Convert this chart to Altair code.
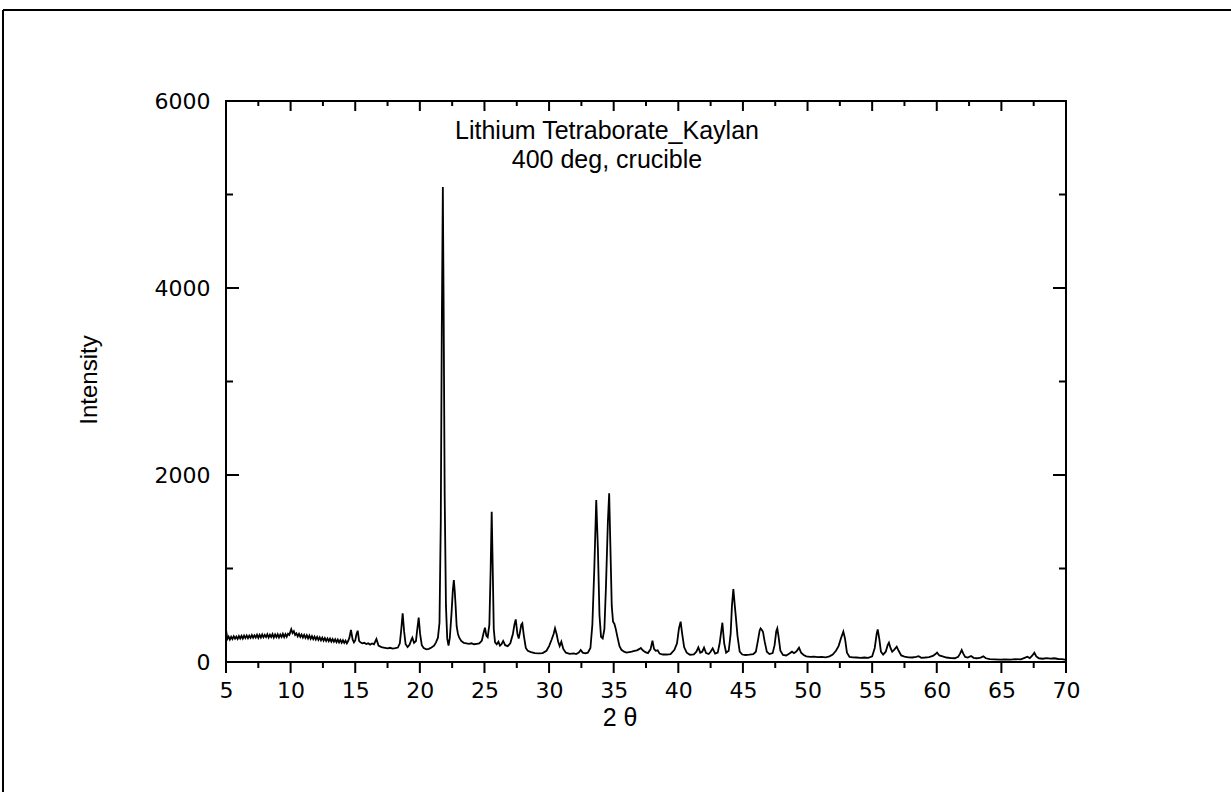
import altair as alt
import pandas as pd

# ---- data ----
theta = [
    5.00, 5.05, 5.10, 5.20, 5.30, 5.40, 5.50, 5.60, 5.70, 5.80, 5.90, 6.00, 6.10, 6.20, 6.30, 6.40, 6.50,
    6.60, 6.70, 6.80, 6.90, 7.00, 7.10, 7.20, 7.30, 7.40, 7.50, 7.60, 7.70, 7.80, 7.90, 8.00, 8.10, 8.20,
    8.30, 8.40, 8.50, 8.60, 8.70, 8.80, 8.90, 9.00, 9.10, 9.20, 9.30, 9.40, 9.50, 9.60, 9.70, 9.80, 9.90,
    10.00, 10.05, 10.15, 10.25, 10.35, 10.45, 10.55, 10.65, 10.75, 10.85, 10.95, 11.05, 11.15, 11.25,
    11.35, 11.45, 11.55, 11.65, 11.75, 11.85, 11.95, 12.05, 12.15, 12.25, 12.35, 12.45, 12.55, 12.65,
    12.75, 12.85, 12.95, 13.05, 13.15, 13.25, 13.35, 13.45, 13.55, 13.65, 13.75, 13.85, 13.95, 14.05,
    14.15, 14.25, 14.35, 14.45, 14.55, 14.67, 14.80, 14.90, 15.00, 15.10, 15.19, 15.30, 15.40, 15.55,
    15.70, 15.85, 16.00, 16.15, 16.30, 16.45, 16.64, 16.80, 16.95, 17.10, 17.30, 17.50, 17.70, 17.90,
    18.10, 18.30, 18.45, 18.55, 18.67, 18.78, 18.90, 19.05, 19.20, 19.35, 19.42, 19.55, 19.70, 19.80,
    19.91, 20.02, 20.15, 20.30, 20.50, 20.70, 20.90, 21.10, 21.25, 21.40, 21.52, 21.62, 21.70, 21.78,
    21.84, 21.92, 22.02, 22.12, 22.22, 22.32, 22.45, 22.55, 22.63, 22.70, 22.76, 22.85, 22.95, 23.05,
    23.20, 23.40, 23.60, 23.80, 24.00, 24.20, 24.40, 24.60, 24.80, 24.95, 25.04, 25.15, 25.25, 25.38,
    25.48, 25.56, 25.64, 25.72, 25.82, 25.95, 26.08, 26.20, 26.32, 26.45, 26.60, 26.80, 27.00, 27.20,
    27.32, 27.42, 27.55, 27.65, 27.75, 27.85, 27.93, 28.05, 28.20, 28.35, 28.60, 28.90, 29.20, 29.50,
    29.80, 30.00, 30.20, 30.35, 30.46, 30.58, 30.70, 30.82, 30.95, 31.10, 31.30, 31.60, 31.90, 32.10,
    32.30, 32.45, 32.60, 32.80, 33.00, 33.20, 33.35, 33.50, 33.65, 33.78, 33.90, 34.02, 34.15, 34.28,
    34.40, 34.55, 34.65, 34.75, 34.85, 34.95, 35.05, 35.15, 35.30, 35.45, 35.60, 35.80, 36.00, 36.20,
    36.40, 36.60, 36.80, 37.00, 37.10, 37.25, 37.45, 37.65, 37.85, 38.00, 38.12, 38.25, 38.40, 38.55,
    38.80, 39.10, 39.40, 39.70, 39.90, 40.05, 40.18, 40.30, 40.45, 40.65, 40.90, 41.20, 41.40, 41.55,
    41.70, 41.85, 41.99, 42.15, 42.35, 42.50, 42.66, 42.85, 43.05, 43.20, 43.41, 43.55, 43.70, 43.90,
    44.05, 44.15, 44.26, 44.36, 44.45, 44.58, 44.75, 44.95, 45.20, 45.50, 45.80, 46.00, 46.15, 46.30,
    46.37, 46.48, 46.55, 46.68, 46.85, 47.05, 47.30, 47.45, 47.58, 47.66, 47.75, 47.90, 48.10, 48.35,
    48.60, 48.80, 48.95, 49.15, 49.34, 49.50, 49.70, 49.90, 50.20, 50.50, 50.80, 51.10, 51.40, 51.70,
    51.95, 52.20, 52.40, 52.60, 52.77, 52.90, 53.05, 53.25, 53.50, 53.80, 54.10, 54.40, 54.70, 55.00,
    55.20, 55.35, 55.43, 55.55, 55.68, 55.85, 56.05, 56.20, 56.30, 56.42, 56.55, 56.70, 56.90, 57.05,
    57.25, 57.50, 57.80, 58.10, 58.40, 58.60, 58.80, 59.10, 59.40, 59.70, 59.90, 60.02, 60.20, 60.45,
    60.75, 61.10, 61.40, 61.65, 61.80, 61.93, 62.05, 62.20, 62.40, 62.65, 62.85, 63.10, 63.40, 63.60,
    63.80, 64.10, 64.50, 64.90, 65.30, 65.70, 66.10, 66.50, 66.80, 67.00, 67.20, 67.40, 67.55, 67.70,
    67.90, 68.20, 68.50, 68.80, 69.10, 69.40, 69.70, 70.00,
]
intensity = [
    345, 300, 245, 272, 240, 270, 245, 276, 250, 272, 246, 278, 252, 280, 250, 282, 256,
    284, 255, 282, 258, 288, 260, 285, 262, 292, 258, 290, 262, 294, 264, 290, 266, 296,
    262, 292, 268, 298, 262, 294, 266, 296, 262, 294, 268, 300, 266, 298, 270, 302, 290,
    330, 350, 310, 330, 290, 306, 274, 300, 268, 294, 262, 290, 258, 286,
    252, 282, 248, 276, 244, 272, 240, 268, 236, 264, 232, 260, 228, 256,
    226, 252, 222, 250, 218, 246, 216, 242, 212, 240, 210, 236, 206, 232,
    204, 228, 200, 224, 260, 342, 240, 210, 230, 300, 335, 225, 210, 200,
    205, 192, 200, 186, 198, 190, 246, 175, 165, 155, 150, 145, 152, 144,
    148, 155, 200, 330, 521, 330, 190, 160, 185, 240, 260, 205, 225, 350,
    474, 300, 180, 150, 135, 140, 155, 175, 210, 260, 420, 1500, 3600, 5080,
    3800, 1800, 600, 250, 175, 260, 520, 760, 877, 760, 620, 380, 300, 260,
    225, 205, 200, 195, 200, 190, 195, 200, 230, 320, 367, 280, 265, 400,
    1000, 1608, 1000, 350, 210, 190, 217, 175, 190, 225, 180, 170, 200, 300,
    400, 456, 300, 250, 320, 400, 414, 280, 150, 120, 105, 95, 92, 95,
    120, 170, 240, 300, 360, 300, 220, 170, 217, 140, 100, 88, 92, 85,
    100, 128, 100, 92, 100, 150, 400, 1000, 1733, 1200, 500, 270, 253, 350,
    800, 1500, 1804, 1200, 600, 430, 410, 360, 260, 170, 130, 110, 100, 105,
    110, 118, 125, 140, 150, 125, 105, 95, 135, 228, 140, 120, 125, 90,
    80, 80, 85, 130, 200, 360, 431, 300, 160, 100, 78, 82, 110, 157,
    100, 110, 153, 95, 85, 110, 146, 90, 100, 200, 420, 200, 100, 120,
    300, 600, 780, 620, 485, 280, 110, 80, 75, 78, 85, 110, 220, 340,
    360, 340, 324, 220, 110, 85, 95, 180, 330, 360, 280, 120, 75, 70,
    90, 110, 95, 115, 153, 100, 75, 60, 55, 58, 52, 55, 50, 60,
    80, 120, 170, 260, 324, 250, 100, 55, 50, 48, 45, 48, 45, 60,
    150, 300, 349, 250, 110, 80, 110, 180, 207, 150, 110, 130, 164, 120,
    70, 58, 50, 48, 55, 62, 45, 48, 52, 65, 85, 100, 70, 60,
    48, 42, 40, 55, 90, 128, 90, 55, 48, 64, 45, 40, 48, 60,
    40, 30, 28, 25, 28, 25, 30, 28, 45, 57, 42, 70, 100, 60,
    40, 35, 42, 36, 40, 32, 30, 22,
]
x_major = [5, 10, 15, 20, 25, 30, 35, 40, 45, 50, 55, 60, 65, 70]
x_minor = [7.5, 12.5, 17.5, 22.5, 27.5, 32.5, 37.5, 42.5, 47.5, 52.5, 57.5, 62.5, 67.5]
y_major = [0, 2000, 4000, 6000]
y_minor = [1000, 3000, 5000]
title_line1 = "Lithium Tetraborate_Kaylan"
title_line2 = "400 deg, crucible"
x_title = "2 θ"
y_title = "Intensity"

W, H = 840, 561
LABEL_FONT = "DejaVu Sans"
TEXT_FONT = "Liberation Sans"

xs = alt.Scale(domain=[5, 70], nice=False, zero=False)
ys = alt.Scale(domain=[0, 6000], nice=False, zero=False)

X_AXIS = alt.Axis(
    values=x_major, format="d", ticks=False, tickSize=0, domain=False, grid=False,
    title=None, labelFont=LABEL_FONT, labelFontSize=22, labelColor="black",
    labelPadding=18, labelFlush=False, labelOverlap=False)
Y_AXIS = alt.Axis(
    values=y_major, format="d", ticks=False, tickSize=0, domain=False, grid=False,
    title=None, labelFont=LABEL_FONT, labelFontSize=22, labelColor="black",
    labelPadding=16, labelFlush=False, labelOverlap=False)

df = pd.DataFrame({"theta": theta, "I": intensity})

line = alt.Chart(df).mark_line(color="black", strokeWidth=1.8).encode(
    x=alt.X("theta:Q", scale=xs, axis=X_AXIS),
    y=alt.Y("I:Q", scale=ys, axis=Y_AXIS),
)

xmaj = pd.DataFrame({"v": x_major})
xmin = pd.DataFrame({"v": x_minor})
ymaj = pd.DataFrame({"v": y_major})
ymin = pd.DataFrame({"v": y_minor})

def xrule(d, y1, y2):
    return alt.Chart(d).mark_rule(color="black", strokeWidth=2).encode(
        x=alt.X("v:Q", scale=xs, axis=X_AXIS), y=alt.value(y1), y2=alt.value(y2))

def yrule(d, x1, x2):
    return alt.Chart(d).mark_rule(color="black", strokeWidth=2).encode(
        y=alt.Y("v:Q", scale=ys, axis=Y_AXIS), x=alt.value(x1), x2=alt.value(x2))

ticks = [
    xrule(xmaj, H, H + 11), xrule(xmin, H, H + 6),      # bottom, outward
    xrule(xmaj, 0, 10), xrule(xmin, 0, 5),              # top, inward
    yrule(ymaj, 0, 13), yrule(ymin, 0, 7),              # left, inward
    yrule(ymaj, W, W - 13), yrule(ymin, W, W - 7),      # right, inward
]

one = pd.DataFrame({"a": [0]})
texts = [
    alt.Chart(one).mark_text(font=TEXT_FONT, fontSize=25, color="black", align="center", baseline="middle").encode(
        x=alt.value(381), y=alt.value(30), text=alt.value(title_line1)),
    alt.Chart(one).mark_text(font=TEXT_FONT, fontSize=25, color="black", align="center", baseline="middle").encode(
        x=alt.value(381), y=alt.value(59), text=alt.value(title_line2)),
    alt.Chart(one).mark_text(font=TEXT_FONT, fontSize=25, color="black", align="center", baseline="middle").encode(
        x=alt.value(394), y=alt.value(617), text=alt.value(x_title)),
    alt.Chart(one).mark_text(font=TEXT_FONT, fontSize=24, color="black", align="center", baseline="middle", angle=270).encode(
        x=alt.value(-136), y=alt.value(279), text=alt.value(y_title)),
]

border = [
    alt.Chart(one).mark_rule(color="black", strokeWidth=2).encode(
        x=alt.value(-223), y=alt.value(-91), y2=alt.value(691)),
    alt.Chart(one).mark_rule(color="black", strokeWidth=2).encode(
        x=alt.value(-223), x2=alt.value(1005), y=alt.value(-91)),
]

chart = alt.layer(line, *ticks, *texts, *border).properties(
    width=W, height=H,
    autosize=alt.AutoSizeParams(type="none"),
    padding={"left": 226, "top": 101, "right": 165, "bottom": 130},
    background="white",
).configure_view(stroke="black", strokeWidth=2)

chart.save("out.html", embed_options={"renderer": "svg", "actions": False})
